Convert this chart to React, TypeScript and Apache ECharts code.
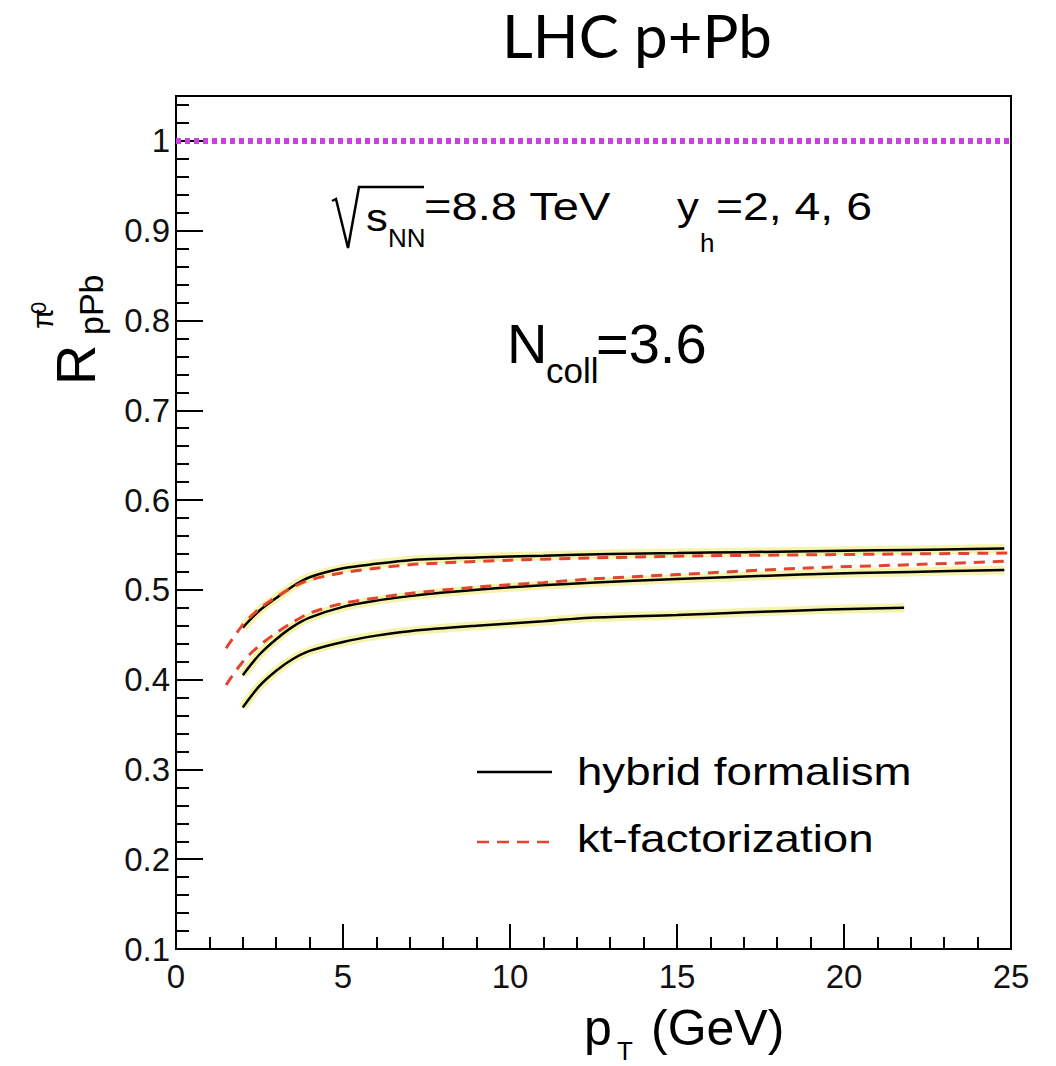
import React, { useEffect, useRef } from 'react';
import * as echarts from 'echarts';

// ---- data ----
const hybridY2: [number, number][] = [
  [2.0, 0.458], [2.5, 0.477], [3, 0.491], [3.5, 0.504], [4, 0.514], [5, 0.524], [6, 0.529],
  [7, 0.533], [9, 0.536], [11, 0.538], [13, 0.540], [15, 0.541], [17, 0.542], [19, 0.543],
  [21, 0.544], [23, 0.545], [24.8, 0.546],
];
const ktY2: [number, number][] = [
  [1.5, 0.435], [2, 0.461], [2.5, 0.479], [3, 0.492], [3.5, 0.503], [4, 0.511], [5, 0.519],
  [6, 0.524], [7, 0.528], [8, 0.530], [10, 0.533], [13, 0.536], [16, 0.538], [19, 0.539],
  [22, 0.540], [25, 0.541],
];
const hybridY4: [number, number][] = [
  [2, 0.405], [2.5, 0.428], [3, 0.445], [3.5, 0.459], [4, 0.469], [5, 0.481], [6, 0.488],
  [7, 0.493], [8, 0.497], [10, 0.503], [12.4, 0.508], [15, 0.512], [18.7, 0.517], [22, 0.520],
  [24.8, 0.522],
];
const ktY4: [number, number][] = [
  [1.5, 0.394], [2, 0.420], [2.5, 0.438], [3, 0.452], [3.5, 0.464], [4, 0.474], [5, 0.485],
  [6, 0.491], [7, 0.496], [9, 0.503], [11, 0.508], [12.4, 0.512], [15, 0.517], [18.7, 0.524],
  [22, 0.528], [25, 0.532],
];
const hybridY6: [number, number][] = [
  [2, 0.369], [2.5, 0.393], [3, 0.410], [3.5, 0.423], [4, 0.432], [5, 0.442], [6, 0.449],
  [7, 0.454], [9, 0.460], [11, 0.465], [12.4, 0.469], [15, 0.472], [17.1, 0.475], [19.5, 0.478],
  [21.8, 0.480],
];
// uncertainty bulge of the y_h=6 band
const bandX = [14, 15, 16, 17, 18, 19, 20, 21, 21.8];
const bandLow = [0.467, 0.462, 0.458, 0.456, 0.455, 0.456, 0.460, 0.470, 0.476];
const bandHigh = [0.474, 0.475, 0.477, 0.478, 0.479, 0.480, 0.481, 0.482, 0.482];
const unityLine: [number, number][] = [[0, 1], [25, 1]];

const legendNames = ['hybrid formalism', 'kt-factorization'];

const FONT = '"Liberation Sans", Arial, Helvetica, sans-serif';

function txt(text: string, x: number, baseline: number, fs: number, opts: any = {}) {
  const c = opts.central ?? 0.3465;
  return {
    type: 'text',
    x,
    y: baseline - c * fs,
    scaleX: opts.scaleX ?? 1,
    z: 100,
    style: {
      text,
      fontSize: fs,
      lineHeight: fs,
      fontFamily: opts.font ?? FONT,
      fill: '#000',
      align: opts.align ?? 'left',
      textAlign: opts.align ?? 'left',
      verticalAlign: 'middle',
      textVerticalAlign: 'middle',
    },
  };
}

export default function App() {
  const ref = useRef<HTMLDivElement>(null);
  useEffect(() => {
    document.body.style.margin = '0';
    const chart = echarts.init(ref.current!, null, { renderer: 'svg' });
    const axisLine = { show: true, lineStyle: { color: '#000', width: 2 } };
    const yLabelFmt = (v: number) => {
      const r = Math.round(v * 10) / 10;
      if (Math.abs(v - r) > 1e-6) return '';
      return r === 1 ? '1' : r.toFixed(1);
    };
    const line = (name: string, data: any, color: string, width: number, type: any, z: number) => ({
      name,
      type: 'line',
      data,
      showSymbol: false,
      symbol: 'none',
      smooth: 0.3,
      lineStyle: { color, width, type },
      itemStyle: { color },
      z,
      silent: true,
    });
    const yellowUnder = (data: any) => ({
      type: 'line',
      data,
      symbol: 'none',
      smooth: 0.3,
      lineStyle: { color: 'rgba(238,232,90,0.5)', width: 9 },
      z: 1,
      silent: true,
    });

    const option: any = {
      animation: false,
      backgroundColor: '#ffffff',
      grid: {
        left: 176, right: 45, top: 96, bottom: 117,
        show: true, borderColor: '#000', borderWidth: 2, backgroundColor: 'transparent',
      },
      xAxis: {
        type: 'value', min: 0, max: 25, interval: 5,
        axisLine,
        axisTick: { show: true, inside: true, length: 25, lineStyle: { color: '#000', width: 2 } },
        minorTick: { show: true, splitNumber: 5, length: 12, lineStyle: { color: '#000', width: 2 } },
        splitLine: { show: false },
        axisLabel: { fontFamily: FONT, fontSize: 33, color: '#111', margin: 11 },
      },
      yAxis: [
        {
          type: 'value', min: 0.1, max: 1.05, interval: 0.1, position: 'left',
          axisLine,
          axisTick: { show: true, inside: true, length: 27, lineStyle: { color: '#000', width: 2 } },
          splitLine: { show: false },
          axisLabel: { fontFamily: FONT, fontSize: 33, color: '#111', margin: 6, formatter: yLabelFmt },
        },
        {
          type: 'value', min: 0.1, max: 1.05, interval: 0.02, position: 'left', offset: 0,
          axisLine: { show: false },
          axisTick: { show: true, inside: true, length: 13, lineStyle: { color: '#000', width: 2 } },
          splitLine: { show: false },
          axisLabel: { show: false },
        },
      ],
      series: [
        {
          type: 'line', stack: 'band', data: bandX.map((x, i) => [x, bandLow[i]]),
          symbol: 'none', smooth: 0.3, lineStyle: { opacity: 0 }, z: 1, silent: true,
        },
        {
          type: 'line', stack: 'band', data: bandX.map((x, i) => [x, bandHigh[i] - bandLow[i]]),
          symbol: 'none', smooth: 0.3, lineStyle: { opacity: 0 },
          areaStyle: { color: 'rgba(240,234,110,0.4)' }, z: 1, silent: true,
        },
        yellowUnder(hybridY2),
        yellowUnder(hybridY4),
        yellowUnder(hybridY6),
        line('hybrid formalism', hybridY2, '#000', 2.5, 'solid', 3),
        line('hybrid formalism', hybridY4, '#000', 2.5, 'solid', 3),
        line('hybrid formalism', hybridY6, '#000', 2.5, 'solid', 3),
        line('kt-factorization', ktY2, '#e2442f', 3, [11, 8], 4),
        line('kt-factorization', ktY4, '#e2442f', 3, [11, 8], 4),
        {
          type: 'line', data: unityLine, symbol: 'none',
          lineStyle: { color: '#cc3fe0', width: 6, type: [5, 4] }, z: 5, silent: true,
        },
      ],
      graphic: [
        // title
        txt('LHC p+Pb', 637, 58, 60, { align: 'center', font: 'Lato, "Open Sans", sans-serif', central: 0.39 }),
        // y axis title, rotated
        {
          type: 'group', x: 95, y: 385, rotation: Math.PI / 2,
          children: [
            txt('R', 0, 0, 56),
            txt('π', 56, -42, 30),
            txt('0', 71, -49, 22),
            txt('pPb', 50, 8, 34),
          ],
        },
        // x axis title
        txt('p', 584, 1045, 50),
        txt('T', 617, 1060, 26),
        txt('(GeV)', 651, 1045, 50),
        // sqrt(s_NN) = 8.8 TeV   y_h = 2, 4, 6
        {
          type: 'polyline', z: 100,
          shape: { points: [[332, 201], [336, 199], [348, 248], [359, 187], [424, 187]] },
          style: { stroke: '#000', lineWidth: 2.5, fill: 'none' },
        },
        txt('s', 366, 231, 38, { scaleX: 1.15 }),
        txt('NN', 388, 247, 26),
        txt('=8.8 TeV', 424, 220, 38, { scaleX: 1.24 }),
        txt('y', 677, 220, 38, { scaleX: 1.15 }),
        txt('h', 700, 252, 26),
        txt('=2, 4, 6', 716, 220, 38, { scaleX: 1.22 }),
        // N_coll = 3.6
        txt('N', 507, 363, 56),
        txt('coll', 546, 383, 35),
        txt('=3.6', 596, 363, 56),
        // legend
        {
          type: 'line', z: 100,
          shape: { x1: 477, y1: 772, x2: 552, y2: 772 },
          style: { stroke: '#000', lineWidth: 2.5 },
        },
        {
          type: 'line', z: 100,
          shape: { x1: 477, y1: 842, x2: 552, y2: 842 },
          style: { stroke: '#e2442f', lineWidth: 2.5, lineDash: [12, 8] },
        },
        txt(legendNames[0], 577, 785, 38, { scaleX: 1.2 }),
        txt(legendNames[1], 577, 852, 38, { scaleX: 1.2 }),
      ],
    };
    chart.setOption(option);
    return () => chart.dispose();
  }, []);
  return <div ref={ref} style={{ width: 1056, height: 1066 }} />;
}
